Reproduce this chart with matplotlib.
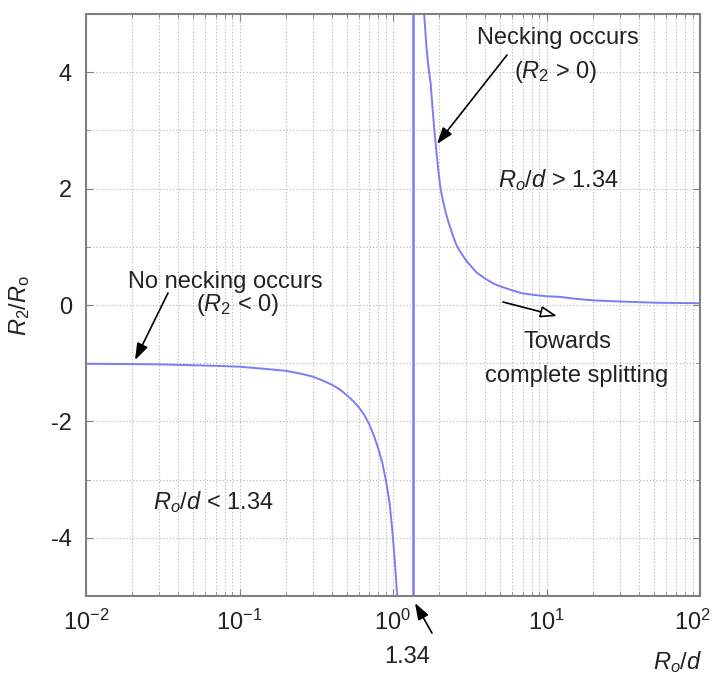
import numpy as np
import matplotlib
matplotlib.use('Agg')
import matplotlib.pyplot as plt
from matplotlib.ticker import LogLocator, MultipleLocator
from matplotlib.transforms import ScaledTranslation

plt.rcParams['font.family'] = ['Liberation Sans', 'DejaVu Sans']
plt.rcParams['mathtext.fontset'] = 'custom'
plt.rcParams['mathtext.rm'] = 'Liberation Sans'
plt.rcParams['mathtext.it'] = 'Liberation Sans:italic'
plt.rcParams['mathtext.default'] = 'regular'
plt.rcParams['axes.unicode_minus'] = False

# values
ASYMPTOTE = 1.34
xLeft = [0.01, 0.02, 0.03, 0.05, 0.07, 0.1, 0.15, 0.2, 0.25, 0.3, 0.35, 0.4, 0.45, 0.5, 0.55,
         0.6, 0.65, 0.7, 0.75, 0.8, 0.85, 0.9, 0.95, 0.98, 1.01, 1.04, 1.07]
yLeft = [-1.01, -1.015, -1.02, -1.035, -1.045, -1.06, -1.1, -1.13, -1.18, -1.23, -1.3, -1.37, -1.45, -1.55, -1.65,
         -1.76, -1.89, -2.05, -2.24, -2.46, -2.7, -3.02, -3.4, -3.75, -4.15, -4.6, -5.1]
xRight = [1.57, 1.61, 1.65, 1.70, 1.76, 1.81, 1.86, 1.92, 1.98, 2.04, 2.12, 2.2, 2.3, 2.45, 2.6, 2.8,
          3.0, 3.5, 4.0, 4.5, 5.0, 6.0, 7.0, 8.5, 10.0, 12.2, 15.0, 20.0, 30.0, 50.0, 70.0, 100.0]
yRight = [5.3, 4.85, 4.45, 4.1, 3.8, 3.38, 3.0, 2.62, 2.28, 2.0, 1.78, 1.6, 1.42, 1.2, 1.02, 0.88,
          0.76, 0.56, 0.45, 0.37, 0.32, 0.25, 0.2, 0.17, 0.15, 0.14, 0.11, 0.08, 0.06, 0.04, 0.035, 0.03]

LINE_COLOR = '#7c7cf6'
FS = 17

fig = plt.figure(figsize=(7.12, 6.75), dpi=100)
ax = fig.add_axes([86/712, 79/675, 614/712, 582/675])

ax.plot(xLeft, yLeft, color=LINE_COLOR, lw=1.4)
ax.plot(xRight, yRight, color=LINE_COLOR, lw=1.4)
ax.axvline(ASYMPTOTE, color=LINE_COLOR, lw=1.8)

ax.set_xscale('log')
ax.set_xlim(1e-2, 1e2)
ax.set_ylim(-5, 5)
ax.xaxis.set_major_locator(LogLocator(base=10, numticks=10))
ax.xaxis.set_minor_locator(LogLocator(base=10, subs=np.arange(2, 10), numticks=20))
ax.yaxis.set_major_locator(MultipleLocator(2))
ax.yaxis.set_minor_locator(MultipleLocator(1))

ax.grid(True, which='both', linestyle=(0, (1, 2)), color='#b0b0b0', lw=0.8)
ax.tick_params(which='both', direction='in', top=True, right=True, colors='#808080', labelcolor='#222222', labelsize=FS)
ax.tick_params(which='major', length=5, pad=10)
ax.tick_params(which='minor', length=3)
for s in ax.spines.values():
    s.set_color('#808080'); s.set_linewidth(1.5)

ax.set_ylabel('$\\mathit{R}_{2}/\\mathit{R}_{o}$', fontsize=FS, color='#222222', labelpad=14)
fig.text(678/712, 1 - 662/675, '$\\mathit{R_o/d}$', fontsize=FS, color='#222222', ha='center', va='center')

def px(x, y):
    return (x/712, 1 - y/675)

txt = dict(fontsize=FS, color='#222222', ha='center', va='center')
fig.text(*px(225, 282), 'No necking occurs', **txt)
fig.text(*px(238, 305), '($\\mathit{R}_{2}$ < 0)', **txt)
fig.text(*px(558, 38), 'Necking occurs', **txt)
fig.text(*px(556, 72), '($\\mathit{R}_{2}$ > 0)', **txt)
fig.text(*px(558, 180), '$\\mathit{R_o/d}$ > 1.34', **txt)
fig.text(*px(213, 502), '$\\mathit{R_o/d}$ < 1.34', **txt)
fig.text(*px(567, 342), 'Towards', **txt)
fig.text(*px(577, 376), 'complete splitting', **txt)
fig.text(*px(407, 657), '1.34', **txt)

solid = dict(arrowstyle='-|>,head_length=1.0,head_width=0.35', color='black', lw=1.2, shrinkA=0, shrinkB=0)
hollow = dict(arrowstyle='-|>,head_length=1.0,head_width=0.35', facecolor='white', edgecolor='black', lw=1.2, shrinkA=0, shrinkB=0)
for start, end, props in [((168, 293), (135, 360), solid),
                          ((507, 55), (437, 144), solid),
                          ((432, 633), (415, 603), solid),
                          ((503, 302), (557, 316), hollow)]:
    ax.annotate('', xy=px(*end), xycoords='figure fraction', xytext=px(*start),
                textcoords='figure fraction', arrowprops=props, annotation_clip=False)

# last x label sits on the figure edge, nudge it in a little
fig.canvas.draw()
for tick in ax.xaxis.get_major_ticks():
    if abs(tick.get_loc() - 100) < 1e-6:
        lbl = tick.label1
        lbl.set_transform(lbl.get_transform() + ScaledTranslation(-0.08, 0, fig.dpi_scale_trans))

plt.savefig('out.png', dpi=100)
